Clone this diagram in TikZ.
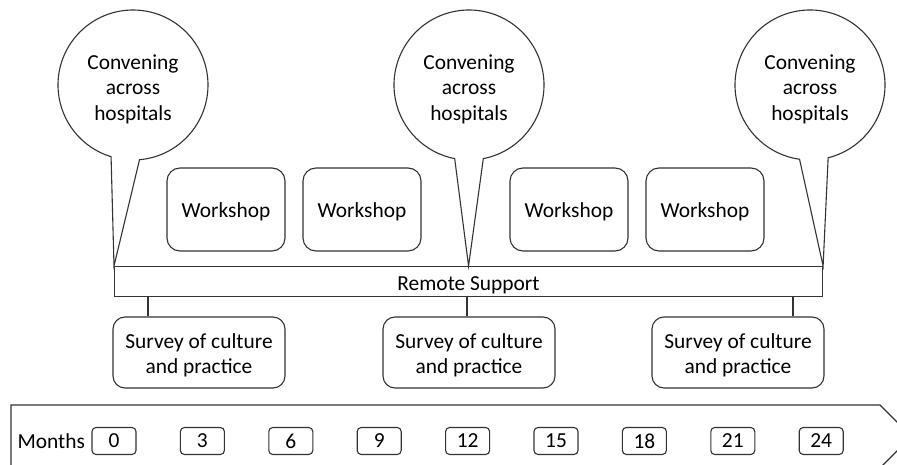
\documentclass[tikz,border=0pt]{standalone}
\usepackage{fontspec}
\setmainfont{Carlito}
% strut that moves a text down a little in its box
\newcommand\txtdrop[1]{\rule{0pt}{#1}}
\tikzset{
  bubble/.style={circle,minimum size=150pt,inner sep=0pt,outer sep=0pt,align=center},
  workbox/.style={draw,rounded corners=13pt,minimum width=118pt,minimum height=83pt,inner sep=0pt},
  survbox/.style={draw,rounded corners=12pt,minimum width=172pt,minimum height=71pt,inner sep=0pt,align=center},
  monthbox/.style={draw,rounded corners=4pt,minimum width=44pt,minimum height=27pt,inner sep=0pt}
}
\begin{document}
\begin{tikzpicture}[x=1pt,y=-1pt,line width=1.1pt,draw=black!80,
    font=\fontsize{21.4pt}{25.5pt}\selectfont]
  \useasboundingbox (0,0) rectangle (897,465);
  % time line
  \draw (11,468) -- (11,405) -- (880,405) -- (911.5,436.5) -- (880,468);
  \node[anchor=west,inner sep=0pt] (months) at (17,441) {Months};
  \foreach \m [count=\i from 0] in {0,3,...,24}
    \node[monthbox] (m\m) at ({114+88.4*\i},441) {\m};
  % support bar
  \node[draw,minimum width=708pt,minimum height=30pt,inner sep=0pt,
    anchor=north west] (rs) at (114,266) {\txtdrop{20.5pt}Remote Support};
  % workshops
  \foreach \x [count=\i] in {226,362,569,705}
    \node[workbox] (ws\i) at (\x,209.5) {\txtdrop{19pt}Workshop};
  % surveys
  \foreach \x/\t [count=\i] in {199/148,469/467,738/793} {
    \node[survbox] (sv\i) at (\x,352.5) {\txtdrop{20.5pt}Survey of culture\\and practice};
    \draw (sv\i.north -| \t,0) -- (rs.south -| \t,0);
  }
  % convening bubbles
  \foreach \n/\c/\s/\e/\p in {1/133/-85/253/north west,2/469/-79/259/north,3/810/-76/262/north east} {
    \node[bubble] (conv\n) at (\c,85) {\txtdrop{22.5pt}Convening\\across\\hospitals};
    \draw (conv\n.\s) arc[start angle=\s,end angle=\e,radius=75pt] -- (rs.\p) -- cycle;
  }
\end{tikzpicture}
\end{document}
